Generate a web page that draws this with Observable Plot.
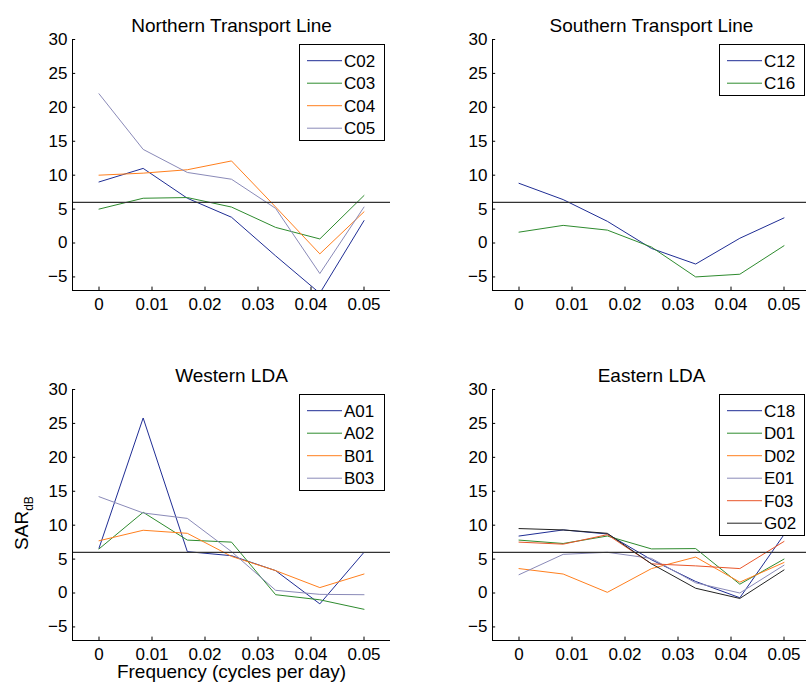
<!DOCTYPE html>
<html>
<head>
<meta charset="utf-8">
<script src="https://cdn.jsdelivr.net/npm/d3@7"></script>
<script src="https://cdn.jsdelivr.net/npm/@observablehq/plot@0.6"></script>
<style>
  html, body { margin: 0; padding: 0; background: #fff; }
  #wrap { position: relative; width: 806px; height: 689px; overflow: hidden; font-family: "Liberation Sans", Arial, sans-serif; }
  .panel { position: absolute; }
  .legend { position: absolute; background: #fff; border: 1px solid #000; box-sizing: border-box; }
</style>
</head>
<body>
<div id="wrap"></div>
<script>
// Frequencies (cycles per day): 0 .. 6/120
const freq = [0, 1/120, 2/120, 3/120, 4/120, 5/120, 6/120];

// Panel titles
const titles = ["Northern Transport Line", "Southern Transport Line", "Western LDA", "Eastern LDA"];

// Northern Transport Line
const northNames = ["C02", "C03", "C04", "C05"];
const C02 = [9.0, 11.0, 6.6, 3.8, -1.9, -7.4, 3.3];
const C03 = [5.0, 6.6, 6.7, 5.3, 2.3, 0.6, 7.0];
const C04 = [10.0, 10.3, 10.8, 12.1, 5.3, -1.6, 4.6];
const C05 = [22.0, 13.8, 10.4, 9.4, 5.1, -4.5, 5.3];

// Southern Transport Line
const southNames = ["C12", "C16"];
const C12 = [8.8, 6.4, 3.2, -0.8, -3.1, 0.7, 3.7];
const C16 = [1.6, 2.6, 1.9, -0.6, -5.0, -4.6, -0.4];

// Western LDA
const westNames = ["A01", "A02", "B01", "B03"];
const A01 = [6.6, 25.8, 6.1, 5.5, 3.3, -1.6, 6.0];
const A02 = [6.5, 11.9, 7.8, 7.5, -0.25, -1.0, -2.4];
const B01 = [7.7, 9.25, 8.8, 5.4, 3.3, 0.8, 2.8];
const B03 = [14.2, 11.8, 11.0, 6.1, 0.4, -0.2, -0.25];

// Eastern LDA
const eastNames = ["C18", "D01", "D02", "E01", "F03", "G02"];
const C18 = [8.4, 9.3, 8.7, 4.9, 1.7, -0.7, 8.6];
const D01 = [7.8, 7.3, 8.4, 6.5, 6.55, 1.3, 5.0];
const D02 = [3.6, 2.8, 0.1, 3.6, 5.3, 1.6, 4.5];
const E01 = [2.7, 5.7, 6.0, 5.1, 1.5, 0.0, 4.1];
const F03 = [7.5, 7.2, 8.6, 4.3, 4.0, 3.6, 7.6];
const G02 = [9.5, 9.3, 8.8, 4.3, 0.7, -0.8, 3.4];

// Threshold level (dB)
const threshold = 6;

// Axis ticks
const xTicks = [0, 0.01, 0.02, 0.03, 0.04, 0.05];
const yTicks = [-5, 0, 5, 10, 15, 20, 25, 30];
const xDomain = [-0.005, 0.055];
const yDomain = [-7, 30];

// Series colours
const seriesColors = {
  C02: "#1f2d94", C03: "#2e8b2e", C04: "#ff7f1e", C05: "#8a8ab8",
  C12: "#1f2d94", C16: "#2e8b2e",
  A01: "#1f2d94", A02: "#2e8b2e", B01: "#ff7f1e", B03: "#8a8ab8",
  C18: "#1f2d94", D01: "#2e8b2e", D02: "#ff7f1e", E01: "#8a8ab8", F03: "#e8562a", G02: "#222222"
};

const panels = [
  {title: titles[0], names: northNames, values: [C02, C03, C04, C05], left: 0, top: 0, xlabel: false, ylabel: false},
  {title: titles[1], names: southNames, values: [C12, C16], left: 420, top: 0, xlabel: false, ylabel: false},
  {title: titles[2], names: westNames, values: [A01, A02, B01, B03], left: 0, top: 350, xlabel: true, ylabel: true},
  {title: titles[3], names: eastNames, values: [C18, D01, D02, E01, F03, G02], left: 420, top: 350, xlabel: false, ylabel: false}
];

const wrap = document.getElementById("wrap");
const font = "'Liberation Sans', Arial, Helvetica, sans-serif";

for (const p of panels) {
  const rows = [];
  p.names.forEach((name, i) => {
    p.values[i].forEach((v, j) => rows.push({series: name, f: freq[j], v}));
  });
  const marginBottom = p.xlabel ? 49 : 30;
  const height = 39 + 251 + marginBottom;
  const marks = [
    Plot.line(rows, {x: "f", y: "v", z: "series", stroke: d => seriesColors[d.series], strokeWidth: 1, clip: true}),
    Plot.ruleY([threshold], {stroke: "#333", strokeWidth: 1.2}),
    Plot.ruleY([yDomain[0]], {stroke: "#000", strokeWidth: 1}),
    Plot.ruleX([xDomain[0]], {stroke: "#000", strokeWidth: 1}),
    Plot.ruleX(xTicks, {x: d => d, y1: yDomain[0], y2: yDomain[0] + 0.5, stroke: "#000"}),
    Plot.ruleY(yTicks, {y: d => d, x1: xDomain[0], x2: xDomain[0] + 0.0006, stroke: "#000"}),
    Plot.axisX({ticks: xTicks, tickSize: 0, tickPadding: 7, label: null, tickFormat: d => d === 0 ? "0" : d.toFixed(2), fill: "#000", fontSize: 17}),
    Plot.axisY({ticks: yTicks, tickSize: 0, tickPadding: 5, label: null, fill: "#000", fontSize: 17}),
    Plot.text([p.title], {frameAnchor: "top", dy: -21, fontSize: 19, fill: "#000"})
  ];
  if (p.xlabel) {
    marks.push(Plot.text(["Frequency (cycles per day)"], {frameAnchor: "bottom", dy: 37, fontSize: 19, fill: "#000"}));
  }
  const chart = Plot.plot({
    width: 400,
    height,
    marginLeft: 72,
    marginRight: 10,
    marginTop: 39,
    marginBottom,
    style: {fontFamily: font, fontSize: "17px", background: "transparent", overflow: "visible"},
    x: {domain: xDomain, axis: null},
    y: {domain: yDomain, axis: null},
    marks
  });
  chart.classList.add("panel");
  chart.style.left = p.left + "px";
  chart.style.top = p.top + "px";
  wrap.appendChild(chart);

  if (p.ylabel) {
    const t = d3.select(chart).append("text")
      .attr("transform", "translate(28,173) rotate(-90)")
      .attr("text-anchor", "middle")
      .attr("font-size", 19)
      .attr("fill", "#000")
      .attr("font-family", font);
    t.append("tspan").text("SAR");
    t.append("tspan").attr("font-size", 12).attr("dy", 5).text("dB");
  }

  // Legend
  const rowH = 22.5;
  const lh = 16.7 + 13 + rowH * (p.names.length - 1);
  const lw = 86;
  const legLeft = p.left + 72 + 318 - 5 - lw;
  const legTop = p.top + 44;
  const leg = document.createElement("div");
  leg.className = "legend";
  leg.style.left = legLeft + "px";
  leg.style.top = legTop + "px";
  leg.style.width = lw + "px";
  leg.style.height = lh + "px";
  const svg = d3.select(leg).append("svg").attr("width", lw).attr("height", lh)
    .style("position", "absolute").style("left", "-1px").style("top", "-1px");
  p.names.forEach((name, i) => {
    const cy = 16.7 + i * rowH;
    svg.append("line").attr("x1", 8).attr("x2", 43).attr("y1", cy).attr("y2", cy)
      .attr("stroke", seriesColors[name]).attr("stroke-width", 1);
    svg.append("text").attr("x", 45).attr("y", cy).attr("dy", "0.36em")
      .attr("font-family", font).attr("font-size", 17).attr("fill", "#000").text(name);
  });
  wrap.appendChild(leg);
}
</script>
</body>
</html>
